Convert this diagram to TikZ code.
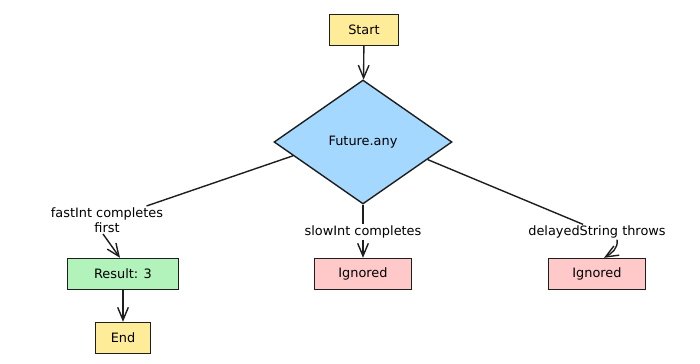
\documentclass[tikz,border=0pt]{standalone}
\usepackage{fontspec}
\setmainfont{DejaVu Sans}
\usepackage{tikz}
\usetikzlibrary{shapes.geometric,arrows.meta,positioning,calc}
\definecolor{strokedark}{RGB}{30, 30, 30}
\definecolor{fillyellow}{RGB}{255, 236, 153}
\definecolor{fillblue}{RGB}{165, 216, 255}
\definecolor{fillgreen}{RGB}{178, 242, 187}
\definecolor{fillred}{RGB}{255, 201, 201}

\begin{document}
\begin{tikzpicture}[x=0.03cm, y=-0.03cm, >={Straight Barb[length=3.8mm, width=3.2mm]},
    font=\fontsize{11}{13}\selectfont,
    box/.style={rectangle, draw=strokedark, line width=1.2pt, minimum height=0.93cm, inner sep=2pt},
    flow/.style={draw=strokedark, line width=1.2pt},
    cond/.style={inner sep=1pt, align=center}]
    \useasboundingbox (0,0) rectangle (700,364);

    \node[box, fill=fillyellow, minimum width=2.07cm] (start) at (364,30) {Start};
    \node[diamond, draw=strokedark, line width=1.2pt, fill=fillblue, minimum width=5.34cm, minimum height=3.72cm, inner sep=0pt] (fut) at (363,142) {Future.any};

    \node[cond] (lblfast) at (107,220) {fastInt completes\\first};
    \node[cond] (lblslow) at (363,232) {slowInt completes};
    \node[cond] (lblthrow) at (597,232) {delayedString throws};

    \node[box, fill=fillgreen, minimum width=3.33cm] (res) at (123,274) {Result: 3};
    \node[box, fill=fillyellow, minimum width=1.65cm] (finish) at (123,338) {End};
    \node[box, fill=fillred, minimum width=2.91cm] (ignslow) at (363,274) {Ignored};
    \node[box, fill=fillred, minimum width=2.91cm] (ignthrow) at (597,274) {Ignored};

    \draw[->, flow] (start) -- (fut);
    \draw[flow] ($(fut.west)!0.22!(fut.south)$) -- ($(lblfast.north east)+(-18,0)$);
    \draw[->, flow] ($(lblfast.south)+(-4,0)$) -- ($(res.north)+(-3,0)$);
    \draw[flow] (fut.south) -- (lblslow.north);
    \draw[->, flow] (lblslow.south) -- (ignslow.north);
    \draw[flow] ($(fut.east)!0.28!(fut.south)$) -- ($(lblthrow.north)+(-14,0)$);
    \draw[->, flow] ($(lblthrow.south)+(20,0)$) to[out=-80, in=30] ($(ignthrow.north)+(7,0)$);
    \draw[->, flow] (res) -- (finish);
\end{tikzpicture}
\end{document}
